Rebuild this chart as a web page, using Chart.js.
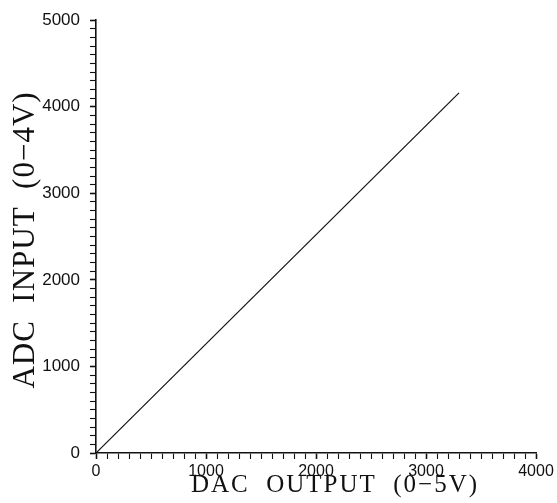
<!DOCTYPE html>
<html>
<head>
<meta charset="utf-8">
<script src="https://cdn.jsdelivr.net/npm/chart.js@4/dist/chart.umd.min.js"></script>
<style>
  html, body { margin: 0; padding: 0; background: #fff; }
  #wrap { width: 557px; height: 503px; position: relative; }
</style>
</head>
<body>
<div id="wrap"><canvas id="adcChart"></canvas></div>
<script>
/* data */
const dacOutput = [0, 3300];
const adcInput = [0, 4160];
const xRange = [0, 4000];
const yRange = [0, 5000];
const minorStep = 100;
const majorStep = 1000;
const xTitle = 'DAC  OUTPUT  (0\u22125V)';
const yTitle = 'ADC  INPUT  (0\u22124V)';

const points = dacOutput.map((x, i) => ({ x: x, y: adcInput[i] }));

// axis titles, drawn by hand so the letter spacing can be widened
const axisTitles = {
  id: 'axisTitles',
  afterDraw(chart) {
    const ctx = chart.ctx;
    ctx.save();
    ctx.fillStyle = '#111';
    ctx.textAlign = 'center';
    ctx.textBaseline = 'alphabetic';

    ctx.font = '25px "Liberation Serif", "DejaVu Serif", serif';
    ctx.letterSpacing = '2px';
    ctx.fillText(xTitle, 335, 492);

    ctx.translate(34, 240);
    ctx.rotate(-Math.PI / 2);
    ctx.font = '31px "Liberation Serif", "DejaVu Serif", serif';
    ctx.letterSpacing = '1px';
    ctx.fillText(yTitle, 0, 0);
    ctx.restore();
  }
};

function tickLabel(v) {
  return v % majorStep === 0 ? String(v) : '';
}

function majorWidth(c) {
  return c.tick && c.tick.value % majorStep === 0 ? 1.6 : 1.1;
}

new Chart(document.getElementById('adcChart').getContext('2d'), {
  type: 'scatter',
  data: {
    datasets: [{
      data: points,
      showLine: true,
      borderColor: '#111',
      borderWidth: 1.2,
      pointRadius: 0,
      fill: false
    }]
  },
  options: {
    responsive: true,
    maintainAspectRatio: false,
    animation: false,
    layout: { padding: { top: 20, right: 21, left: 0, bottom: 0 } },
    plugins: { legend: { display: false }, tooltip: { enabled: false } },
    scales: {
      x: {
        type: 'linear',
        min: xRange[0],
        max: xRange[1],
        afterFit(scale) { scale.height = 50; },
        border: { display: true, color: '#111', width: 1.6 },
        grid: {
          drawOnChartArea: false,
          drawTicks: true,
          tickLength: 6,
          tickColor: '#111',
          tickWidth: majorWidth
        },
        ticks: {
          stepSize: minorStep,
          autoSkip: false,
          maxRotation: 0,
          padding: 3,
          color: '#111',
          font: { family: '"Liberation Sans", Arial, sans-serif', size: 16 },
          callback: tickLabel
        }
      },
      y: {
        type: 'linear',
        min: yRange[0],
        max: yRange[1],
        afterFit(scale) { scale.width = 96; },
        border: { display: true, color: '#111', width: 1.6 },
        grid: {
          drawOnChartArea: false,
          drawTicks: true,
          tickLength: 6,
          tickColor: '#111',
          tickWidth: majorWidth
        },
        ticks: {
          stepSize: minorStep,
          autoSkip: false,
          padding: 10,
          color: '#111',
          font: { family: '"Liberation Sans", Arial, sans-serif', size: 17 },
          callback: tickLabel
        }
      }
    }
  },
  plugins: [axisTitles]
});
</script>
</body>
</html>
